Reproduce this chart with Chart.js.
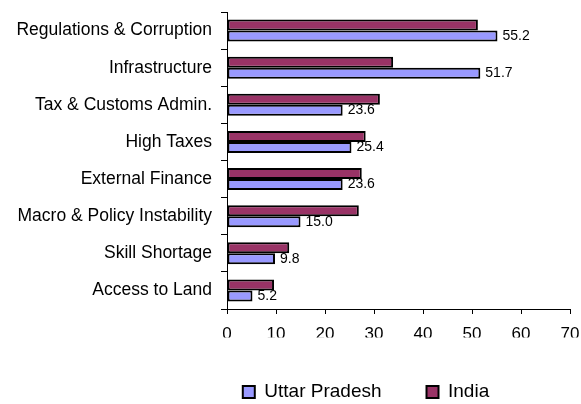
<!DOCTYPE html>
<html>
<head>
<meta charset="utf-8">
<script src="https://cdn.jsdelivr.net/npm/chart.js@4"></script>
<style>
  html, body { margin: 0; padding: 0; background: #fff; }
  #wrap { width: 581px; height: 404px; }
</style>
</head>
<body>
<div id="wrap"><canvas id="chart" width="581" height="404"></canvas></div>
<script>
const categories = [
  'Regulations & Corruption',
  'Infrastructure',
  'Tax & Customs Admin.',
  'High Taxes',
  'External Finance',
  'Macro & Policy Instability',
  'Skill Shortage',
  'Access to Land'
];
const indiaValues = [51.2, 33.9, 31.2, 28.3, 27.5, 26.9, 12.7, 9.6];
const upValues = [55.2, 51.7, 23.6, 25.4, 23.6, 15.0, 9.8, 5.2];
const xTicks = [0, 10, 20, 30, 40, 50, 60, 70];

Chart.defaults.font.family = "'Liberation Sans', Arial, sans-serif";
Chart.defaults.color = '#000';

// value labels next to the Uttar Pradesh bars
const valueLabels = {
  id: 'valueLabels',
  afterDatasetsDraw(chart) {
    const ctx = chart.ctx;
    const meta = chart.getDatasetMeta(1);
    ctx.save();
    ctx.font = "14px 'Liberation Sans', Arial, sans-serif";
    ctx.fillStyle = '#000';
    ctx.textAlign = 'left';
    ctx.textBaseline = 'middle';
    meta.data.forEach((bar, i) => {
      ctx.fillText(upValues[i].toFixed(1), bar.x + 5, bar.y);
    });
    ctx.restore();
  }
};

// center the legend under the right part of the chart, like the original
const legendShift = {
  id: 'legendShift',
  afterLayout(chart) {
    const lg = chart.legend;
    lg.left = 162;
    lg.right = 570;
    lg.width = lg.right - lg.left;
  }
};

const ctx = document.getElementById('chart');
const myChart = new Chart(ctx, {
  type: 'bar',
  data: {
    labels: categories,
    datasets: [
      {
        label: 'India',
        data: indiaValues,
        backgroundColor: '#993366',
        borderColor: '#000',
        borderWidth: 2,
        borderSkipped: false
      },
      {
        label: 'Uttar Pradesh',
        data: upValues,
        backgroundColor: '#9999FF',
        borderColor: '#000',
        borderWidth: 2,
        borderSkipped: false
      }
    ]
  },
  options: {
    indexAxis: 'y',
    responsive: false,
    animation: false,
    layout: {
      padding: { left: 0, right: 11, top: 12, bottom: -7.5 }
    },
    datasets: {
      bar: { categoryPercentage: 0.59, barPercentage: 1 }
    },
    plugins: {
      tooltip: { enabled: false },
      legend: {
        position: 'bottom',
        reverse: true,
        labels: {
          boxWidth: 12,
          boxHeight: 12,
          padding: 45,
          font: { size: 19 }
        }
      }
    },
    scales: {
      x: {
        min: 0,
        max: 70,
        afterBuildTicks: (scale) => {
          scale.ticks = xTicks.map(v => ({ value: v }));
        },
        afterFit: (scale) => {
          scale.height = 28.5;
          scale.paddingLeft = 0;
          scale.paddingRight = 0;
        },
        ticks: { font: { size: 17 }, padding: 10 },
        grid: { drawOnChartArea: false, tickLength: 5, color: '#000' },
        border: { color: '#000', width: 1 }
      },
      y: {
        afterFit: (scale) => {
          scale.width = 227;
          scale.paddingTop = 0;
          scale.paddingBottom = 0;
        },
        ticks: { font: { size: 17.5 }, padding: 9 },
        grid: { drawOnChartArea: false, tickLength: 6, color: '#000' },
        border: { color: '#000', width: 1 }
      }
    }
  },
  plugins: [valueLabels, legendShift]
});
</script>
</body>
</html>
